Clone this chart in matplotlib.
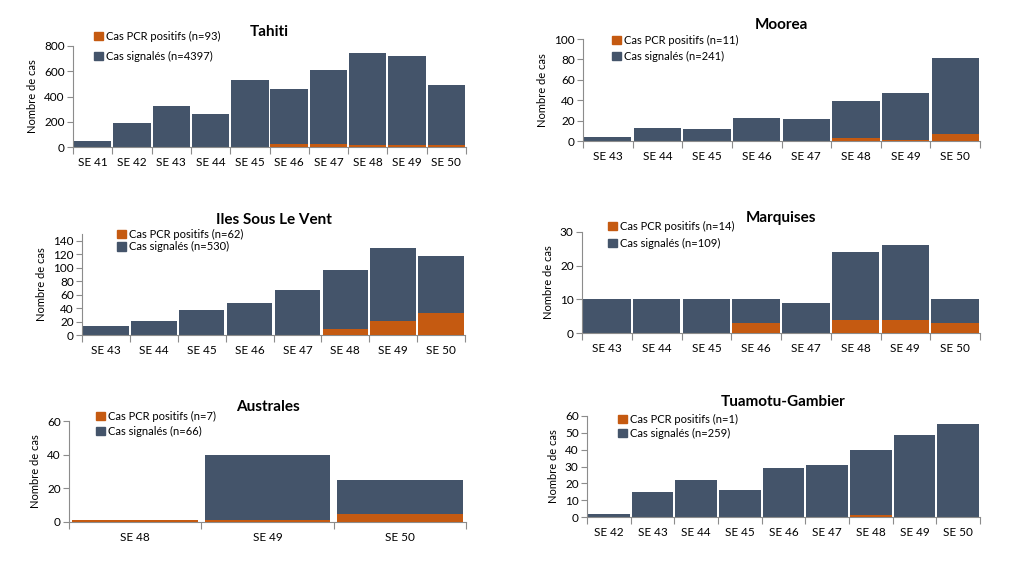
import matplotlib.pyplot as plt
from matplotlib.patches import Patch

plt.rcParams['font.family'] = ['Lato', 'DejaVu Sans']

# Data per region: weeks, reported cases, PCR positive cases
tahiti_weeks = ['SE 41', 'SE 42', 'SE 43', 'SE 44', 'SE 45', 'SE 46', 'SE 47', 'SE 48', 'SE 49', 'SE 50']
tahiti_signales = [48, 188, 328, 263, 528, 462, 612, 748, 720, 495]
tahiti_pcr = [0, 0, 0, 0, 0, 24, 24, 15, 15, 15]

moorea_weeks = ['SE 43', 'SE 44', 'SE 45', 'SE 46', 'SE 47', 'SE 48', 'SE 49', 'SE 50']
moorea_signales = [4, 13, 12, 23, 22, 39, 47, 81]
moorea_pcr = [0, 0, 0, 0, 0, 3, 1, 7]

islv_weeks = ['SE 43', 'SE 44', 'SE 45', 'SE 46', 'SE 47', 'SE 48', 'SE 49', 'SE 50']
islv_signales = [14, 21, 37, 48, 67, 97, 129, 117]
islv_pcr = [0, 0, 0, 0, 0, 9, 21, 32]

marquises_weeks = ['SE 43', 'SE 44', 'SE 45', 'SE 46', 'SE 47', 'SE 48', 'SE 49', 'SE 50']
marquises_signales = [10, 10, 10, 10, 9, 24, 26, 10]
marquises_pcr = [0, 0, 0, 3, 0, 4, 4, 3]

australes_weeks = ['SE 48', 'SE 49', 'SE 50']
australes_signales = [1, 40, 25]
australes_pcr = [1, 1, 5]

tuamotu_weeks = ['SE 42', 'SE 43', 'SE 44', 'SE 45', 'SE 46', 'SE 47', 'SE 48', 'SE 49', 'SE 50']
tuamotu_signales = [2, 15, 22, 16, 29, 31, 40, 49, 55]
tuamotu_pcr = [0, 0, 0, 0, 0, 0, 1, 0, 0]

W, H = 1015, 570
DARK = '#44546A'
ORANGE = '#C55A11'
GREY = '#8C8C8C'

fig = plt.figure(figsize=(W / 100, H / 100), dpi=100)


def panel(box, title, weeks, signales, pcr, n_pcr, n_sig, ymax, ystep, yticks_max,
          leg_xy, leg_space):
    left, right, top, bottom = box
    ax = fig.add_axes([left / W, 1 - bottom / H, (right - left) / W, (bottom - top) / H])
    x = list(range(len(weeks)))
    ax.bar(x, signales, width=0.95, color=DARK, linewidth=0, zorder=2)
    ax.bar(x, pcr, width=0.95, color=ORANGE, linewidth=0, zorder=3)
    ax.set_xlim(-0.5, len(weeks) - 0.5)
    ax.set_ylim(0, ymax)
    ax.set_yticks(range(0, yticks_max + 1, ystep))
    ax.set_xticks([i - 0.5 for i in range(len(weeks) + 1)])
    ax.set_xticklabels([])
    ax.set_xticks(x, minor=True)
    ax.set_xticklabels(weeks, minor=True)
    ax.tick_params(axis='x', which='major', length=5, color=GREY, direction='out')
    ax.tick_params(axis='x', which='minor', length=0, pad=7, labelsize=8.5)
    ax.tick_params(axis='y', length=4, color=GREY, labelsize=8.5, pad=2)
    for s in ['top', 'right']:
        ax.spines[s].set_visible(False)
    for s in ['left', 'bottom']:
        ax.spines[s].set_color(GREY)
    ax.set_ylabel('Nombre de cas', fontsize=8)
    ax.set_title(title, fontsize=11, fontweight='bold', pad=7)
    handles = [Patch(color=ORANGE, label='Cas PCR positifs (n=%d)' % n_pcr),
               Patch(color=DARK, label='Cas signalés (n=%d)' % n_sig)]
    lx, ly = leg_xy
    ax.legend(handles=handles, loc='upper left', bbox_to_anchor=(lx / W, 1 - ly / H),
              bbox_transform=fig.transFigure, frameon=False, fontsize=8,
              borderpad=0, borderaxespad=0, handlelength=0.8, handleheight=0.8,
              handletextpad=0.3, labelspacing=leg_space)
    return ax


panel((73, 466, 46, 147), 'Tahiti', tahiti_weeks, tahiti_signales, tahiti_pcr, 93, 4397,
      800, 200, 800, (94, 31), 0.8)
panel((583, 980, 39, 141), 'Moorea', moorea_weeks, moorea_signales, moorea_pcr, 11, 241,
      100, 20, 100, (612, 35), 0.45)
panel((82, 465, 234, 335), 'Iles Sous Le Vent', islv_weeks, islv_signales, islv_pcr, 62, 530,
      150, 20, 140, (117, 229), 0.1)
panel((582, 980, 232, 333), 'Marquises', marquises_weeks, marquises_signales, marquises_pcr,
      14, 109, 30, 10, 30, (608, 221), 0.5)
panel((69, 466, 421, 522), 'Australes', australes_weeks, australes_signales, australes_pcr,
      7, 66, 60, 20, 60, (96, 411), 0.33)
panel((587, 980, 416, 517), 'Tuamotu-Gambier', tuamotu_weeks, tuamotu_signales, tuamotu_pcr,
      1, 259, 60, 10, 60, (618, 414), 0.25)

fig.savefig('out.png', dpi=100)
